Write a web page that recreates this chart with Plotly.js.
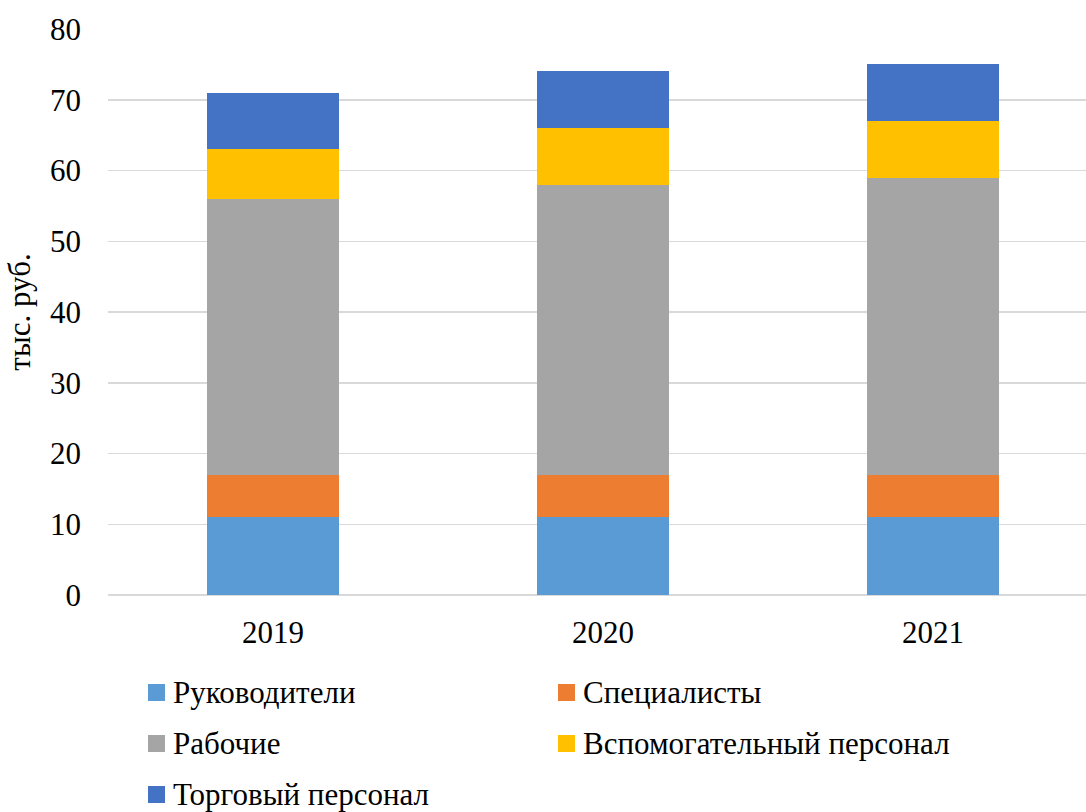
<!DOCTYPE html>
<html>
<head>
<meta charset="utf-8">
<script src="https://cdn.plot.ly/plotly-3.0.1.min.js"></script>
<style>html,body{margin:0;padding:0;background:#fff;}#chart{width:1086px;height:812px;}</style>
</head>
<body>
<div id="chart"></div>
<script>
const years = ['2019', '2020', '2021'];
const seriesNames = ['Руководители', 'Специалисты', 'Рабочие', 'Вспомогательный персонал', 'Торговый персонал'];
const rukovoditeli = [11, 11, 11];
const specialisty = [6, 6, 6];
const rabochie = [39, 41, 42];
const vspomogatelny = [7, 8, 8];
const torgovy = [8, 8, 8];
const colors = ['#5B9BD5', '#ED7D31', '#A5A5A5', '#FFC000', '#4472C4'];
const values = [rukovoditeli, specialisty, rabochie, vspomogatelny, torgovy];

const font = 'Liberation Serif, DejaVu Serif';
const W = 1086, H = 812;
const M = {l: 108, r: 0, t: 29, b: 217};
const pw = W - M.l - M.r, ph = H - M.t - M.b;
const px2x = p => (p - M.l) / pw;
const py2y = p => (H - M.b - p) / ph;

const traces = values.map((v, i) => ({
  type: 'bar',
  x: years,
  y: v,
  name: seriesNames[i],
  marker: {color: colors[i], line: {width: 0}},
  width: 0.4,
  hoverinfo: 'x+y+name'
}));

// Manual legend: two columns, rows top to bottom
const legCols = [148, 558];
const legRows = [692.5, 743.5, 794.5];
const sq = 17;
const shapes = [], annotations = [];
seriesNames.forEach((name, i) => {
  const cx = legCols[i % 2], cy = legRows[Math.floor(i / 2)];
  shapes.push({
    type: 'rect', xref: 'paper', yref: 'paper',
    x0: px2x(cx), x1: px2x(cx + sq), y0: py2y(cy + sq / 2), y1: py2y(cy - sq / 2),
    fillcolor: colors[i], line: {width: 0}
  });
  annotations.push({
    xref: 'paper', yref: 'paper', x: px2x(cx + 23), y: py2y(cy),
    xanchor: 'left', yanchor: 'middle', showarrow: false, text: name,
    font: {family: font, size: 31, color: '#000'}
  });
});

const layout = {
  width: W,
  height: H,
  barmode: 'stack',
  margin: M,
  paper_bgcolor: '#fff',
  plot_bgcolor: '#fff',
  font: {family: font, size: 31, color: '#000'},
  xaxis: {
    type: 'category',
    range: [-0.5, 2.4636],
    showgrid: false,
    showline: false,
    zeroline: false,
    ticks: '',
    ticklabelstandoff: 16,
    tickfont: {family: font, size: 31, color: '#000'}
  },
  yaxis: {
    range: [0, 80],
    dtick: 10,
    showgrid: true,
    gridcolor: '#D9D9D9',
    gridwidth: 1.5,
    zeroline: true,
    zerolinecolor: '#D9D9D9',
    zerolinewidth: 1.5,
    showline: false,
    ticks: '',
    ticklabelstandoff: 26,
    tickfont: {family: font, size: 31, color: '#000'},
    title: {text: 'тыс. руб.', font: {family: font, size: 31, color: '#000'}, standoff: 10}
  },
  showlegend: false,
  shapes: shapes,
  annotations: annotations
};
Plotly.newPlot('chart', traces, layout, {displayModeBar: false, staticPlot: true});
</script>
</body>
</html>
